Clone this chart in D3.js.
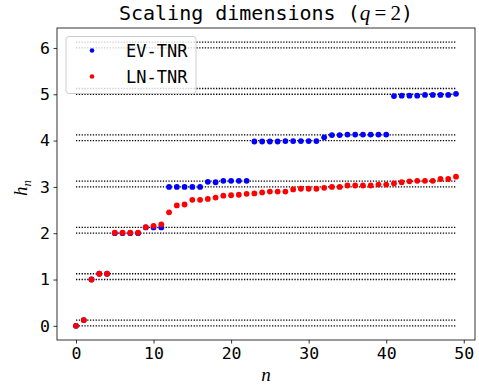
<!DOCTYPE html>
<html>
<head>
<meta charset="utf-8">
<script src="https://cdn.jsdelivr.net/npm/d3@7"></script>
<style>
  body { margin: 0; background: #fff; }
  svg { display: block; }
</style>
</head>
<body>
<div id="chrt"></div>
<script>
// series values, n = 0..49
const nVals = d3.range(0, 50);
const evTnr = [0, 0.125, 1, 1.125, 1.125, 2, 2, 2, 2, 2.125,
  2.125, 2.125, 3, 3, 3, 3, 3, 3.11, 3.10, 3.13,
  3.13, 3.13, 3.13, 3.98, 3.98, 3.98, 3.98, 3.99, 3.99, 3.99,
  3.99, 3.99, 4.07, 4.12, 4.12, 4.13, 4.13, 4.13, 4.13, 4.13,
  4.13, 4.96, 4.97, 4.97, 4.97, 4.985, 4.985, 4.985, 4.985, 5.01];
const lnTnr = [0, 0.125, 1, 1.125, 1.125, 2.01, 2.01, 2.01, 2.01, 2.13,
  2.16, 2.19, 2.45, 2.60, 2.62, 2.72, 2.72, 2.74, 2.77, 2.81,
  2.82, 2.83, 2.85, 2.86, 2.88, 2.90, 2.90, 2.90, 2.945, 2.96,
  2.96, 2.96, 2.98, 3.00, 3.00, 3.03, 3.03, 3.03, 3.03, 3.05,
  3.05, 3.075, 3.10, 3.12, 3.13, 3.13, 3.13, 3.17, 3.17, 3.22];
const refLevels = [0, 0.125, 1, 1.125, 2, 2.125, 3, 3.125, 4, 4.125, 5, 5.125, 6, 6.125];
const xTicks = [0, 10, 20, 30, 40, 50];
const yTicks = [0, 1, 2, 3, 4, 5, 6];
const seriesNames = ['EV-TNR', 'LN-TNR'];
const seriesColors = ['#0000ff', '#ff0000'];

const width = 479, height = 387;
const margin = { left: 57, right: 4, top: 28, bottom: 47 };
const monoFont = '"DejaVu Sans Mono", monospace';
const mathFont = '"Liberation Serif", "DejaVu Serif", serif';

const scaleX = d3.scaleLinear().domain([-2.45, 51.45]).range([margin.left, width - margin.right]);
const scaleY = d3.scaleLinear().domain([-0.306, 6.431]).range([height - margin.bottom, margin.top]);

const svg = d3.select('#chrt').append('svg')
    .attr('width', width)
    .attr('height', height);

// dotted reference lines
svg.append('g').selectAll('line')
    .data(refLevels)
    .enter().append('line')
    .attr('x1', scaleX(0))
    .attr('x2', scaleX(49))
    .attr('y1', (d) => scaleY(d))
    .attr('y2', (d) => scaleY(d))
    .attr('stroke', '#000')
    .attr('stroke-width', 1.3)
    .attr('stroke-dasharray', '1.3,1.5');

// points
const allSeries = [evTnr, lnTnr];
allSeries.forEach((vals, si) => {
  svg.append('g').selectAll('circle')
      .data(vals)
      .enter().append('circle')
      .attr('cx', (d, i) => scaleX(nVals[i]))
      .attr('cy', (d) => scaleY(d))
      .attr('r', 2.9)
      .attr('fill', seriesColors[si]);
});

// axes
const xAxis = svg.append('g')
    .attr('transform', 'translate(0,' + (height - margin.bottom) + ')')
    .call(d3.axisBottom(scaleX).tickValues(xTicks).tickFormat(d3.format('d')).tickSize(3.5).tickPadding(3.5).tickSizeOuter(0));
const yAxis = svg.append('g')
    .attr('transform', 'translate(' + margin.left + ',0)')
    .call(d3.axisLeft(scaleY).tickValues(yTicks).tickFormat(d3.format('d')).tickSize(3.5).tickPadding(3.5).tickSizeOuter(0));
[xAxis, yAxis].forEach((ax) => {
  ax.select('.domain').remove();
  ax.selectAll('text').attr('font-family', monoFont).attr('font-size', 16.5).attr('fill', '#000');
  ax.selectAll('line').attr('stroke', '#000').attr('stroke-width', 0.8);
});

// frame
svg.append('rect')
    .attr('x', scaleX.range()[0])
    .attr('y', scaleY.range()[1])
    .attr('width', scaleX.range()[1] - scaleX.range()[0])
    .attr('height', scaleY.range()[0] - scaleY.range()[1])
    .attr('fill', 'none')
    .attr('stroke', '#000')
    .attr('stroke-width', 0.8);

// title
const title = svg.append('text')
    .attr('x', (scaleX.range()[0] + scaleX.range()[1]) / 2)
    .attr('y', 19.5)
    .attr('text-anchor', 'middle')
    .attr('font-size', 20)
    .attr('font-family', monoFont);
title.append('tspan').text('Scaling dimensions (');
title.append('tspan').attr('font-family', mathFont).attr('font-style', 'italic').attr('font-size', 21).text('q');
title.append('tspan').attr('font-family', mathFont).attr('font-size', 21).text('\u2009=\u20092');
title.append('tspan').text(')');

// axis labels
svg.append('text')
    .attr('x', (scaleX.range()[0] + scaleX.range()[1]) / 2)
    .attr('y', 381)
    .attr('text-anchor', 'middle')
    .attr('font-family', mathFont)
    .attr('font-style', 'italic')
    .attr('font-size', 19)
    .text('n');

const yLab = svg.append('text')
    .attr('transform', 'translate(27,' + ((scaleY.range()[0] + scaleY.range()[1]) / 2 + 4) + ') rotate(-90)')
    .attr('text-anchor', 'middle')
    .attr('font-family', mathFont)
    .attr('font-style', 'italic')
    .attr('font-size', 19);
yLab.append('tspan').text('h');
yLab.append('tspan').attr('font-size', 13).attr('dy', 4).text('n');

// legend
const legend = svg.append('g').attr('transform', 'translate(66,36.5)');
legend.append('rect')
    .attr('width', 130)
    .attr('height', 57)
    .attr('rx', 3)
    .attr('fill', '#fff')
    .attr('fill-opacity', 0.8)
    .attr('stroke', '#ccc')
    .attr('stroke-width', 1);
seriesNames.forEach((name, i) => {
  legend.append('circle')
      .attr('cx', 26)
      .attr('cy', 14 + i * 26)
      .attr('r', 2.3)
      .attr('fill', seriesColors[i]);
  legend.append('text')
      .attr('x', 60)
      .attr('y', 14.5 + i * 26)
      .attr('dy', '0.35em')
      .attr('font-family', monoFont)
      .attr('font-size', 17)
      .text(name);
});
</script>
</body>
</html>
